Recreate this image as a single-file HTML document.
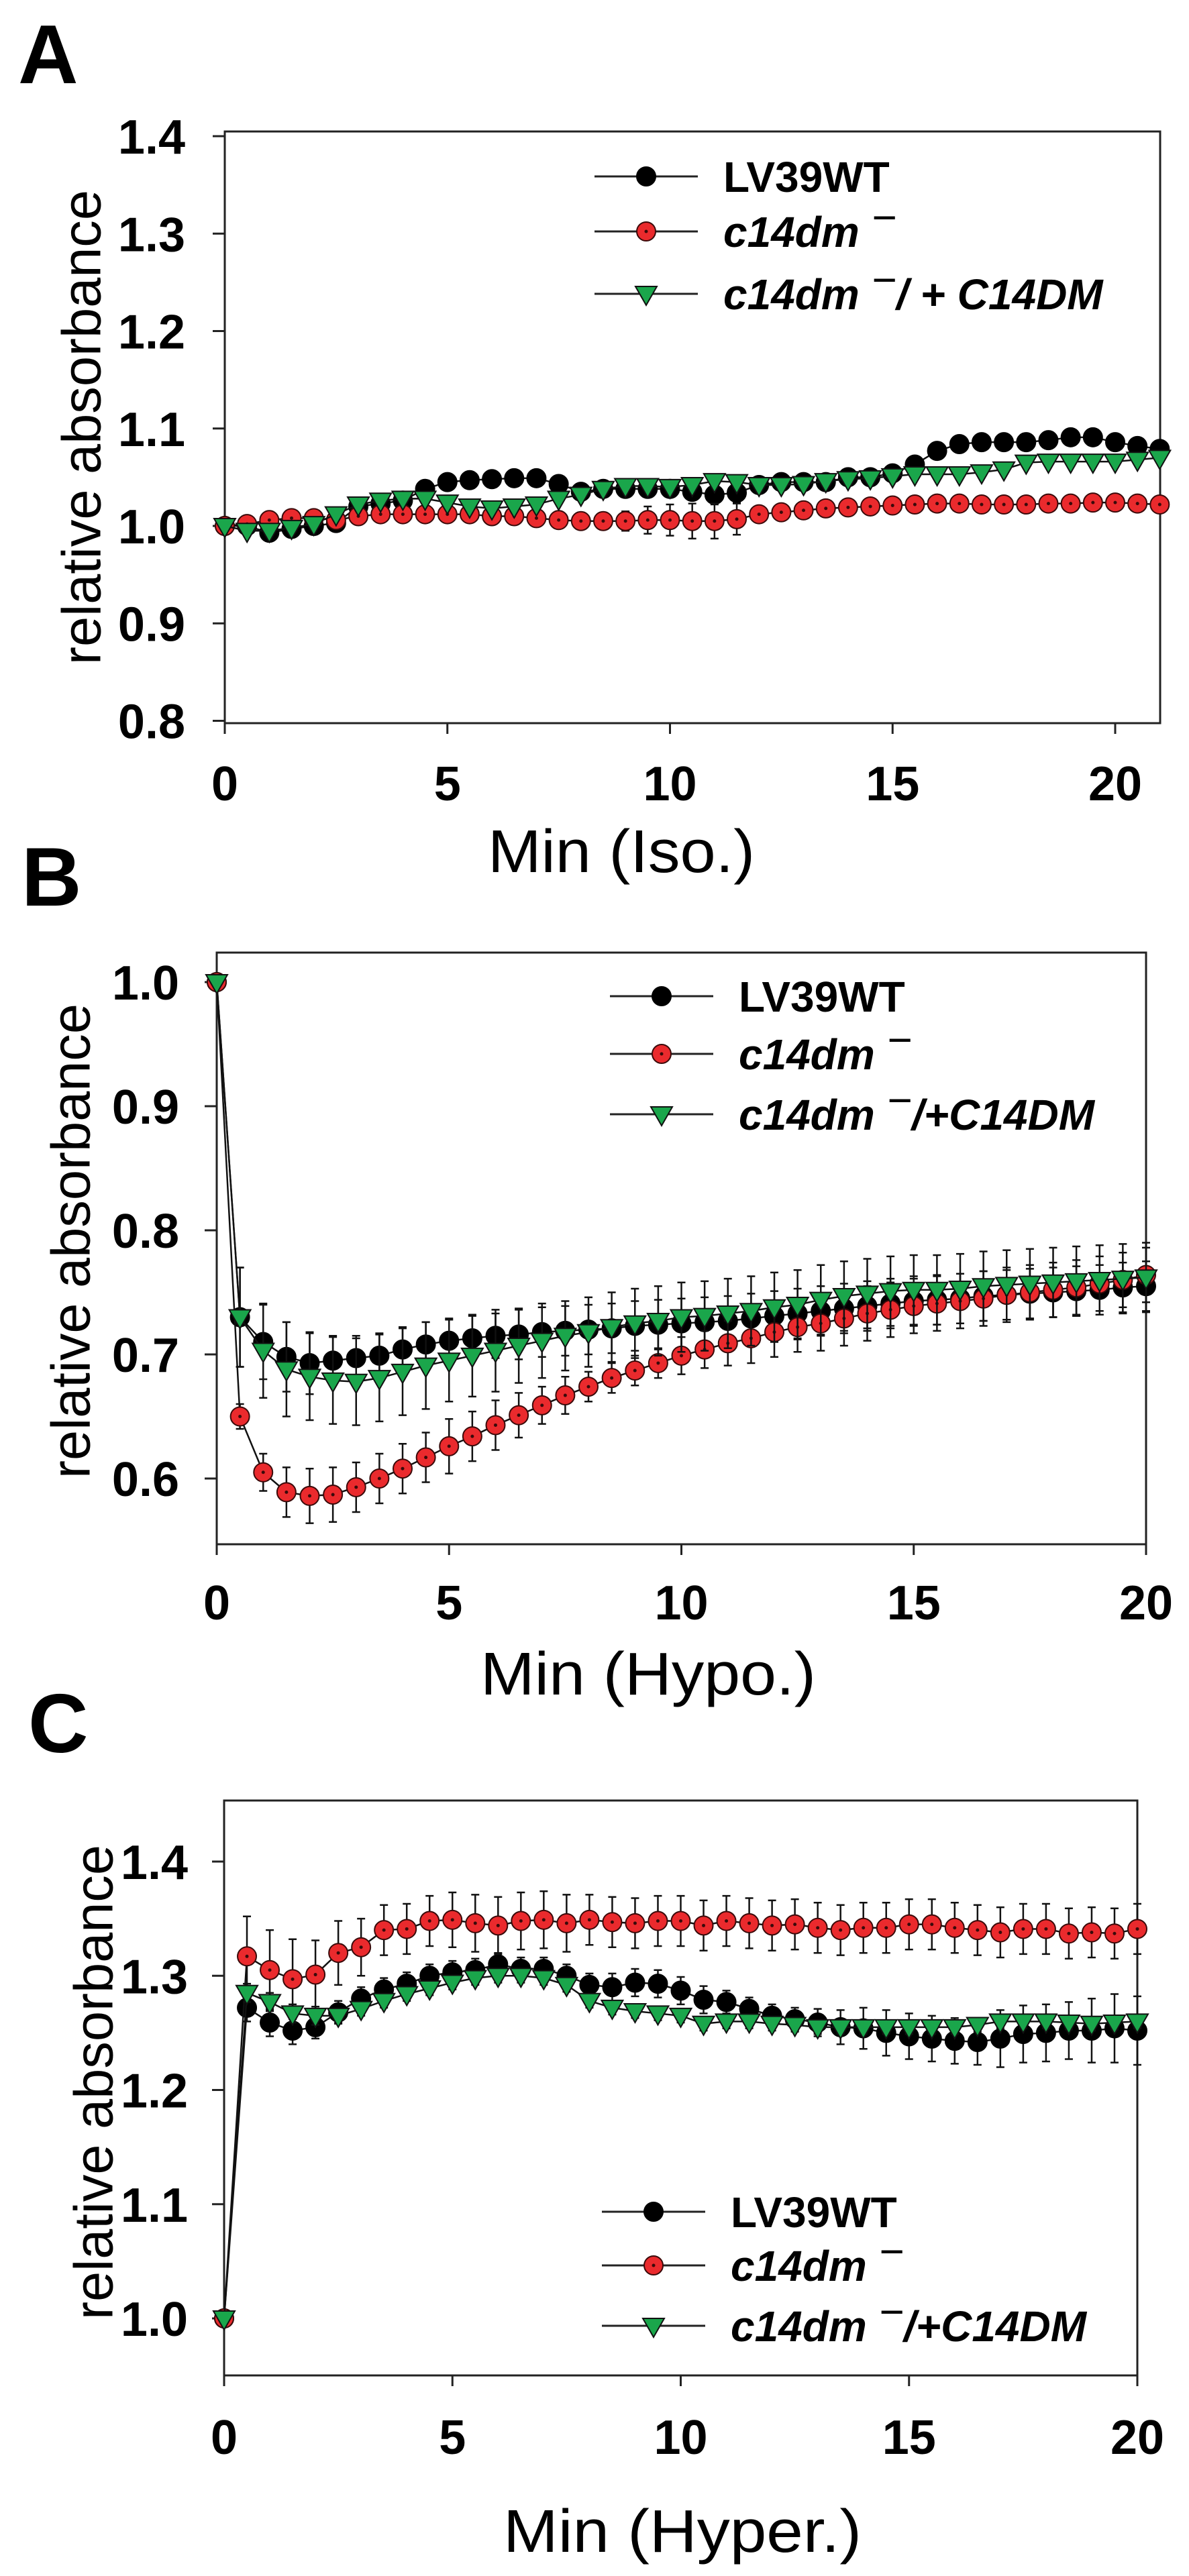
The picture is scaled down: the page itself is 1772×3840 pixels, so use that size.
<!DOCTYPE html>
<html><head><meta charset="utf-8"><style>
html,body{margin:0;padding:0;background:#fff}
svg{display:block}
text{font-family:"Liberation Sans",Arial,sans-serif}
</style></head><body>
<svg id="fig" width="1772" height="3840" viewBox="0 0 1772 3840" xmlns="http://www.w3.org/2000/svg">
<rect x="0" y="0" width="1772" height="3840" fill="#fff"/>
<text x="27" y="124" font-size="124" font-weight="bold">A</text>
<text x="32" y="1350" font-size="124" font-weight="bold">B</text>
<text x="42" y="2612" font-size="124" font-weight="bold">C</text>
<text x="926" y="1300" font-size="90" text-anchor="middle" textLength="398" lengthAdjust="spacingAndGlyphs">Min (Iso.)</text>
<text x="966" y="2526" font-size="90" text-anchor="middle" textLength="500" lengthAdjust="spacingAndGlyphs">Min (Hypo.)</text>
<text x="1017" y="3804" font-size="90" text-anchor="middle" textLength="534" lengthAdjust="spacingAndGlyphs">Min (Hyper.)</text>
</svg>
<script>
// ---- Panel A data (Iso.) ----
const xA = [0,0.5,1,1.5,2,2.5,3,3.5,4,4.5,5,5.5,6,6.5,7,7.5,8,8.5,9,9.5,10,10.5,11,11.5,12,12.5,13,13.5,14,14.5,15,15.5,16,16.5,17,17.5,18,18.5,19,19.5,20,20.5,21];
const wtA = [1.0,1.0,0.993,0.997,1.0,1.003,1.02,1.023,1.026,1.038,1.045,1.047,1.048,1.049,1.049,1.043,1.035,1.038,1.038,1.038,1.038,1.035,1.032,1.034,1.042,1.045,1.045,1.045,1.05,1.05,1.054,1.063,1.077,1.084,1.086,1.086,1.086,1.088,1.091,1.091,1.086,1.082,1.079];
const mutA = [1.0,1.002,1.006,1.008,1.008,1.006,1.01,1.012,1.012,1.012,1.012,1.012,1.01,1.01,1.008,1.006,1.005,1.005,1.005,1.006,1.006,1.005,1.005,1.007,1.012,1.014,1.016,1.018,1.019,1.02,1.021,1.022,1.023,1.023,1.022,1.022,1.022,1.023,1.023,1.024,1.024,1.023,1.022];
const compA = [1.0,0.995,0.995,0.998,1.002,1.012,1.022,1.026,1.028,1.028,1.024,1.02,1.018,1.02,1.022,1.028,1.032,1.038,1.041,1.041,1.04,1.042,1.046,1.045,1.042,1.042,1.043,1.046,1.048,1.049,1.051,1.053,1.053,1.053,1.055,1.058,1.065,1.066,1.066,1.066,1.066,1.068,1.07];
const wtErrA = [0,.004,.005,.004,.004,.004,.004,.004,.004,.004,.004,.004,.004,.004,.004,.004,.004,.005,.006,.006,.006,.006,.01,.01,.005,.004,.004,.004,.004,.004,.004,.004,.004,.004,.004,.004,.004,.004,.004,.004,.004,.004,.004];
const mutErrA = [0,.004,.004,.004,.004,.004,.004,.004,.004,.004,.004,.004,.004,.004,.004,.004,.006,.008,.01,.014,.016,.018,.018,.016,.006,.005,.004,.004,.004,.004,.004,.004,.004,.004,.004,.004,.004,.004,.004,.004,.004,.004,.004];
const compErrA = [0,.004,.004,.004,.004,.004,.004,.004,.004,.004,.004,.004,.004,.004,.004,.004,.004,.004,.004,.004,.004,.004,.004,.004,.004,.004,.004,.004,.004,.004,.004,.004,.004,.004,.004,.004,.004,.004,.004,.004,.004,.004,.004];
const yTicksA = [0.8,0.9,1.0,1.1,1.2,1.3,1.4];
const yTickLabelsA = ["0.8","0.9","1.0","1.1","1.2","1.3","1.4"];

// ---- Panel B data (Hypo.) ----
const xB = [0,0.5,1,1.5,2,2.5,3,3.5,4,4.5,5,5.5,6,6.5,7,7.5,8,8.5,9,9.5,10,10.5,11,11.5,12,12.5,13,13.5,14,14.5,15,15.5,16,16.5,17,17.5,18,18.5,19,19.5,20];
const wtB = [1.0,0.73,0.71,0.698,0.693,0.695,0.697,0.699,0.704,0.708,0.711,0.713,0.715,0.716,0.718,0.719,0.72,0.721,0.723,0.724,0.725,0.726,0.727,0.729,0.731,0.733,0.735,0.737,0.739,0.741,0.743,0.744,0.745,0.747,0.748,0.749,0.75,0.751,0.752,0.754,0.755];
const mutB = [1.0,0.65,0.605,0.589,0.586,0.587,0.593,0.6,0.608,0.617,0.626,0.634,0.643,0.651,0.659,0.667,0.674,0.681,0.687,0.693,0.699,0.704,0.709,0.713,0.718,0.722,0.725,0.729,0.733,0.736,0.739,0.741,0.743,0.745,0.748,0.75,0.752,0.754,0.757,0.76,0.764];
const compB = [1.0,0.73,0.703,0.688,0.682,0.679,0.678,0.681,0.686,0.691,0.695,0.699,0.703,0.707,0.711,0.715,0.718,0.722,0.725,0.727,0.73,0.731,0.733,0.735,0.738,0.74,0.744,0.747,0.749,0.751,0.752,0.752,0.753,0.755,0.756,0.757,0.758,0.759,0.76,0.761,0.762];
const wtErrB = [0,.04,.03,.028,.025,.02,.018,.018,.018,.018,.018,.018,.018,.02,.02,.02,.02,.02,.02,.02,.02,.02,.02,.02,.02,.02,.02,.02,.02,.02,.02,.02,.02,.02,.02,.02,.02,.02,.02,.02,.02];
const mutErrB = [0,.01,.015,.02,.022,.022,.02,.02,.02,.02,.022,.02,.02,.018,.015,.015,.012,.012,.012,.012,.015,.015,.018,.02,.02,.02,.022,.022,.022,.022,.022,.022,.022,.022,.022,.022,.022,.022,.022,.022,.022];
const compErrB = [0,.04,.038,.038,.035,.035,.035,.035,.035,.035,.033,.033,.033,.03,.03,.028,.028,.028,.028,.028,.028,.028,.028,.028,.028,.028,.028,.028,.028,.028,.028,.028,.028,.028,.028,.028,.028,.028,.028,.028,.028];
const yTicksB = [0.6,0.7,0.8,0.9,1.0];
const yTickLabelsB = ["0.6","0.7","0.8","0.9","1.0"];

// ---- Panel C data (Hyper.) ----
const xC = [0,0.5,1,1.5,2,2.5,3,3.5,4,4.5,5,5.5,6,6.5,7,7.5,8,8.5,9,9.5,10,10.5,11,11.5,12,12.5,13,13.5,14,14.5,15,15.5,16,16.5,17,17.5,18,18.5,19,19.5,20];
const wtC = [1.0,1.272,1.259,1.252,1.255,1.268,1.28,1.288,1.293,1.3,1.303,1.305,1.31,1.306,1.306,1.3,1.292,1.29,1.294,1.293,1.287,1.279,1.277,1.271,1.265,1.262,1.259,1.255,1.254,1.25,1.247,1.245,1.243,1.242,1.245,1.249,1.25,1.252,1.252,1.254,1.252];
const mutC = [1.0,1.317,1.305,1.297,1.301,1.32,1.325,1.34,1.341,1.348,1.349,1.346,1.344,1.348,1.349,1.346,1.349,1.347,1.346,1.348,1.348,1.344,1.348,1.346,1.344,1.345,1.342,1.34,1.342,1.342,1.345,1.345,1.342,1.34,1.338,1.341,1.341,1.337,1.338,1.337,1.341];
const compC = [1.0,1.285,1.277,1.267,1.265,1.265,1.271,1.278,1.284,1.289,1.294,1.298,1.3,1.3,1.298,1.292,1.278,1.272,1.269,1.267,1.265,1.258,1.26,1.26,1.258,1.257,1.255,1.255,1.255,1.255,1.255,1.255,1.255,1.257,1.26,1.26,1.26,1.259,1.258,1.259,1.26];
const wtErrC = [0,.012,.012,.012,.01,.01,.01,.01,.01,.01,.01,.01,.01,.01,.01,.01,.01,.012,.012,.012,.012,.012,.01,.01,.01,.01,.012,.015,.018,.02,.02,.02,.02,.02,.025,.025,.025,.025,.028,.03,.03];
const mutErrC = [0,.035,.035,.035,.03,.028,.025,.022,.022,.022,.024,.025,.025,.025,.025,.025,.022,.022,.022,.022,.022,.022,.022,.022,.022,.022,.022,.022,.022,.022,.022,.022,.022,.022,.022,.022,.022,.022,.022,.022,.022];
const compErrC = [0,.008,.008,.008,.008,.006,.006,.006,.006,.006,.006,.006,.006,.006,.006,.006,.006,.006,.006,.006,.006,.006,.006,.006,.006,.006,.006,.006,.006,.006,.006,.006,.006,.006,.006,.006,.006,.006,.006,.006,.006];
const yTicksC = [1.0,1.1,1.2,1.3,1.4];
const yTickLabelsC = ["1.0","1.1","1.2","1.3","1.4"];

const xTicks = [0,5,10,15,20];
const xTickLabels = ["0","5","10","15","20"];

const NS = "http://www.w3.org/2000/svg";
const svg = document.getElementById('fig');
function mk(tag, attrs, parent){
  const e = document.createElementNS(NS, tag);
  for (const k in attrs) e.setAttribute(k, attrs[k]);
  (parent||svg).appendChild(e);
  return e;
}

function panel(cfg){
  const g = mk('g', {});
  
  
  const sx = v => cfg.px0 + (v - cfg.x0) / (cfg.x1 - cfg.x0) * (cfg.px1 - cfg.px0);
  const sy = v => cfg.py0 + (v - cfg.y0) / (cfg.y1 - cfg.y0) * (cfg.py1 - cfg.py0);
  // frame
  const fr = mk('rect', {x: cfg.left, y: cfg.top, width: cfg.right - cfg.left, height: cfg.bottom - cfg.top, fill: 'none', stroke: '#222', 'stroke-width': 3}, g);
  
  
  // y ticks
  cfg.yTicks.forEach((v, i) => {
    const t = mk('line', {x1: cfg.left - 18, x2: cfg.left, y1: sy(v), y2: sy(v), stroke: '#222', 'stroke-width': 3}, g);
    
    
    const lb = mk('text', {x: cfg.ylabRight, y: sy(v) + 26, 'font-size': 72, 'font-weight': 'bold', 'text-anchor': 'end'}, g);
    lb.textContent = cfg.yLabels[i];
    
    
  });
  xTicks.forEach((v, i) => {
    const t = mk('line', {x1: sx(v), x2: sx(v), y1: cfg.bottom, y2: cfg.bottom + 16, stroke: '#222', 'stroke-width': 3}, g);
    
    
    const lb = mk('text', {x: sx(v), y: cfg.xlabY + 26, 'font-size': 72, 'font-weight': 'bold', 'text-anchor': 'middle'}, g);
    lb.textContent = xTickLabels[i];
    
    
  });
  // y title
  const yt = mk('text', {x: 0, y: 0, 'font-size': 82, 'text-anchor': 'middle', 'dominant-baseline': 'central', textLength: 708, lengthAdjust: 'spacingAndGlyphs', transform: `translate(${cfg.ytX},${cfg.ytY}) rotate(-90)`}, g);
  yt.textContent = 'relative absorbance';
  
  

  const series = [
    {n: 'lv39wt', y: cfg.wt, e: cfg.wtErr, m: 'black'},
    {n: 'c14dm-mutant', y: cfg.mut, e: cfg.mutErr, m: 'red'},
    {n: 'c14dm-complemented', y: cfg.comp, e: cfg.compErr, m: 'green'}
  ];
  const order = cfg.order || [0,1,2];
  order.forEach(si => {
    const s = series[si];
    const sg = mk('g', {}, g);
    
    
    // error bars
    s.y.forEach((v, i) => {
      const er = s.e[i];
      if (!er) return;
      const x = sx(cfg.x[i]);
      const eb = mk('path', {d: `M${x},${sy(v - er)}V${sy(v + er)}M${x - 6},${sy(v - er)}h12M${x - 6},${sy(v + er)}h12`, stroke: '#111', 'stroke-width': 2.5, fill: 'none'}, sg);
      
      
    });
    const d = s.y.map((v, i) => (i ? 'L' : 'M') + sx(cfg.x[i]) + ',' + sy(v)).join('');
    const ln = mk('path', {d: d, stroke: '#111', 'stroke-width': 2.5, fill: 'none'}, sg);
    
    
    s.y.forEach((v, i) => {
      const mkEl = marker(sg, s.m, sx(cfg.x[i]), sy(v));
      
      
    });
  });
  // legend
  const names = [['LV39WT'], ['c14dm', ''], ['c14dm', cfg.compSuffix]];
  const ms = ['black', 'red', 'green'];
  cfg.legRows.forEach((ry, i) => {
    const lg = mk('g', {}, g);
    
    
    mk('line', {x1: cfg.legX, x2: cfg.legX + 154, y1: ry, y2: ry, stroke: '#222', 'stroke-width': 3}, lg);
    marker(lg, ms[i], cfg.legX + 77, ry);
    const tx = mk('text', {x: cfg.legX + 192, y: ry + 23, 'font-size': 64, 'font-weight': 'bold'}, lg);
    if (i === 0) { tx.textContent = 'LV39WT'; }
    else {
      tx.setAttribute('font-style', 'italic');
      const a = mk('tspan', {}, tx); a.textContent = 'c14dm ';
      const b = mk('tspan', {dy: -22, 'font-weight': 'normal'}, tx); b.textContent = '\u2212';
      if (i === 2) { const c = mk('tspan', {dy: 22}, tx); c.textContent = cfg.compSuffix; }
    }
  });
}

function marker(parent, type, x, y){
  if (type === 'black') return mk('circle', {cx: x, cy: y, r: 14, fill: '#000', stroke: '#000', 'stroke-width': 2}, parent);
  if (type === 'red') {
    const gg = mk('g', {}, parent);
    mk('circle', {cx: x, cy: y, r: 14, fill: '#ea2a2d', stroke: '#3a0a0a', 'stroke-width': 2}, gg);
    mk('circle', {cx: x, cy: y, r: 2.5, fill: '#3a0a0a'}, gg);
    return gg;
  }
  return mk('polygon', {points: `${x - 16},${y - 11} ${x + 16},${y - 11} ${x},${y + 17}`, fill: '#1aa64b', stroke: '#111', 'stroke-width': 2}, parent);
}

panel({name: 'panel-a-iso', x: xA, wt: wtA, mut: mutA, comp: compA, wtErr: wtErrA, mutErr: mutErrA, compErr: compErrA,
  yTicks: yTicksA, yLabels: yTickLabelsA, x0: 0, x1: 20, px0: 335, px1: 1662, y0: 1.0, y1: 1.4, py0: 784, py1: 203,
  left: 335, right: 1729, top: 196, bottom: 1078, ylabRight: 276, xlabY: 1167, ytX: 122, ytY: 637,
  legX: 886, legRows: [263, 345, 438], compSuffix: '/ + C14DM'});
panel({name: 'panel-b-hypo', x: xB, wt: wtB, mut: mutB, comp: compB, wtErr: wtErrB, mutErr: mutErrB, compErr: compErrB,
  yTicks: yTicksB, yLabels: yTickLabelsB, x0: 0, x1: 20, px0: 323, px1: 1708, y0: 0.6, y1: 1.0, py0: 2204, py1: 1464,
  left: 323, right: 1708, top: 1420, bottom: 2302, ylabRight: 267, xlabY: 2388, ytX: 106, ytY: 1850,
  legX: 909, legRows: [1485, 1571, 1661], compSuffix: '/+C14DM'});
panel({name: 'panel-c-hyper', x: xC, wt: wtC, mut: mutC, comp: compC, wtErr: wtErrC, mutErr: mutErrC, compErr: compErrC,
  yTicks: yTicksC, yLabels: yTickLabelsC, x0: 0, x1: 20, px0: 334, px1: 1695, y0: 1.0, y1: 1.4, py0: 3456, py1: 2775,
  left: 334, right: 1695, top: 2684, bottom: 3541, ylabRight: 280, xlabY: 3632, ytX: 140, ytY: 3104,
  legX: 897, legRows: [3297, 3377, 3467], compSuffix: '/+C14DM'});
</script>
</body></html>
